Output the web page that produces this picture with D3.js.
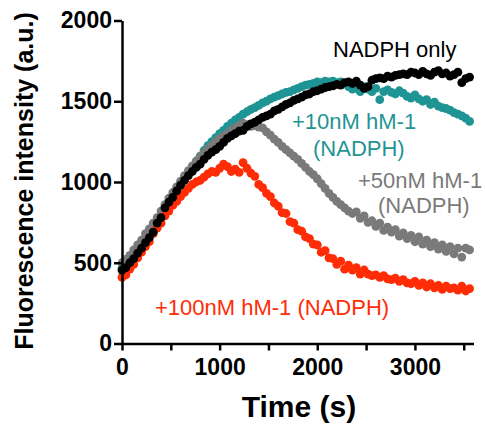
<!DOCTYPE html>
<html>
<head>
<meta charset="utf-8">
<script src="https://cdn.jsdelivr.net/npm/d3@7"></script>
<style>
  body { margin: 0; background: #fff; }
  svg { display: block; font-family: 'Liberation Sans', Arial, sans-serif; }
  .axis path, .axis line { stroke: #000; stroke-width: 2.5; }
  .axis text { font-size: 23px; font-weight: bold; fill: #000; }
</style>
</head>
<body>
<div id="chart"></div>
<script>
'use strict';
// sample times (s)
const times = [
  0, 40, 80, 120, 160, 200, 240, 280, 320, 360, 400, 440, 480, 520, 560, 600, 640, 680, 720, 760,
  800, 840, 880, 920, 960, 1000, 1040, 1080, 1120, 1160, 1200, 1240, 1280, 1320, 1360, 1400, 1440, 1480, 1520, 1560,
  1600, 1640, 1680, 1720, 1760, 1800, 1840, 1880, 1920, 1960, 2000, 2040, 2080, 2120, 2160, 2200, 2240, 2280, 2320, 2360,
  2400, 2440, 2480, 2520, 2560, 2600, 2640, 2680, 2720, 2760, 2800, 2840, 2880, 2920, 2960, 3000, 3040, 3080, 3120, 3160,
  3200, 3240, 3280, 3320, 3360, 3400, 3440, 3480, 3520, 3560
]
const nadphOnly = [
  455, 470, 500, 525, 560, 590, 625, 655, 690, 745, 780, 840, 875, 905, 945, 980, 1010, 1040, 1065, 1090,
  1110, 1140, 1165, 1185, 1200, 1220, 1245, 1270, 1285, 1300, 1315, 1320, 1345, 1360, 1370, 1385, 1400, 1410, 1420, 1440,
  1450, 1465, 1480, 1490, 1505, 1515, 1525, 1540, 1545, 1560, 1565, 1575, 1585, 1590, 1595, 1605, 1600, 1615, 1620, 1610,
  1625, 1600, 1580, 1590, 1630, 1640, 1645, 1640, 1655, 1650, 1660, 1665, 1670, 1665, 1680, 1675, 1665, 1685, 1670, 1660,
  1680, 1690, 1670, 1675, 1655, 1665, 1680, 1615, 1640, 1650
]
const hm10 = [
  465, 480, 510, 535, 570, 600, 635, 665, 700, 750, 790, 845, 880, 915, 955, 990, 1025, 1055, 1090, 1120,
  1160, 1195, 1225, 1250, 1275, 1300, 1320, 1345, 1365, 1385, 1400, 1420, 1435, 1450, 1460, 1475, 1490, 1500, 1515, 1525,
  1535, 1545, 1555, 1560, 1570, 1580, 1590, 1600, 1605, 1610, 1620, 1615, 1625, 1620, 1625, 1615, 1620, 1610, 1590, 1575,
  1580, 1560, 1590, 1575, 1560, 1580, 1510, 1560, 1570, 1555, 1545, 1565, 1550, 1530, 1520, 1540, 1515, 1500, 1510, 1480,
  1495, 1470, 1460, 1455, 1445, 1430, 1420, 1410, 1395, 1375
]
const hm50 = [
  500, 520, 545, 580, 610, 640, 680, 710, 745, 780, 820, 860, 900, 935, 970, 1005, 1040, 1070, 1100, 1130,
  1155, 1180, 1205, 1225, 1250, 1270, 1285, 1300, 1320, 1335, 1350, 1365, 1355, 1345, 1350, 1340, 1335, 1310, 1290, 1265,
  1245, 1220, 1200, 1180, 1160, 1140, 1115, 1090, 1065, 1045, 1020, 990, 960, 930, 905, 880, 860, 840, 820, 805,
  815, 775, 790, 750, 760, 725, 745, 700, 720, 690, 705, 665, 685, 650, 670, 630, 660, 615, 640, 600,
  625, 585, 610, 570, 600, 555, 590, 535, 590, 580
]
const hm100 = [
  410, 425, 460, 490, 530, 565, 600, 630, 680, 715, 745, 790, 820, 855, 880, 910, 935, 960, 985, 1000,
  1010, 1030, 1050, 1065, 1060, 1085, 1110, 1095, 1065, 1080, 1060, 1120, 1085, 1055, 1035, 985, 965, 930, 910, 870,
  850, 810, 805, 755, 745, 705, 695, 660, 650, 615, 610, 565, 575, 530, 525, 490, 510, 460, 485, 455,
  470, 430, 455, 430, 420, 425, 410, 420, 400, 395, 405, 385, 395, 375, 370, 385, 360, 375, 350, 370,
  345, 360, 335, 355, 340, 345, 330, 355, 325, 340
]
const xTicks = [0, 500, 1000, 1500, 2000, 2500, 3000, 3500]
const yTicks = [0, 500, 1000, 1500, 2000]

const teal = '#1f9494'
const grey = '#7a7a7a'
const red = '#ff2c06'

const W = 485
const H = 424
const svg = d3.select('#chart').append('svg')
  .attr('width', W)
  .attr('height', H)

const x = d3.scaleLinear().domain([0, 3600]).range([122, 473.5])
const y = d3.scaleLinear().domain([0, 2000]).range([343.5, 20.5])

const series = [
  { vals: hm10, color: teal },
  { vals: hm50, color: grey },
  { vals: hm100, color: red },
  { vals: nadphOnly, color: '#000' }
]
series.forEach(function(s) {
  svg.append('g').selectAll('circle')
    .data(s.vals).enter().append('circle')
    .attr('cx', function(d, i) { return x(times[i]) })
    .attr('cy', function(d) { return y(d) })
    .attr('r', 4.4)
    .attr('fill', s.color)
})

svg.append('g') // x axis
  .attr('class', 'axis')
  .attr('transform', `translate(0, ${y(0)})`)
  .call(d3.axisBottom(x).tickValues(xTicks).tickSize(7).tickSizeOuter(0).tickPadding(8)
    .tickFormat(function(d) { return d % 1000 === 0 ? String(d) : '' }))
svg.append('g') // y axis
  .attr('class', 'axis')
  .attr('transform', `translate(${x(0)}, 0)`)
  .call(d3.axisLeft(y).tickValues(yTicks).tickSize(8).tickSizeOuter(0).tickPadding(2)
    .tickFormat(d3.format('d')))

svg.append('text') // x label
  .attr('x', 299)
  .attr('y', 417)
  .attr('text-anchor', 'middle')
  .attr('font-size', 30)
  .attr('font-weight', 'bold')
  .text('Time (s)')
svg.append('text') // y label
  .attr('transform', 'translate(33, 181) rotate(-90)')
  .attr('text-anchor', 'middle')
  .attr('font-size', 25)
  .attr('font-weight', 'bold')
  .text('Fluorescence intensity (a.u.)')

const labels = [
  { t: 'NADPH only', x: 333, y: 57, c: '#000' },
  { t: '+10nM hM-1', x: 292, y: 129, c: teal },
  { t: '(NADPH)', x: 313, y: 156, c: teal },
  { t: '+50nM hM-1', x: 358, y: 188, c: grey },
  { t: '(NADPH)', x: 378, y: 213, c: grey },
  { t: '+100nM hM-1 (NADPH)', x: 155, y: 315, c: red }
]
svg.append('g').selectAll('text')
  .data(labels).enter().append('text')
  .attr('x', function(d) { return d.x })
  .attr('y', function(d) { return d.y })
  .attr('fill', function(d) { return d.c })
  .attr('font-size', 22)
  .text(function(d) { return d.t })
</script>
</body>
</html>
